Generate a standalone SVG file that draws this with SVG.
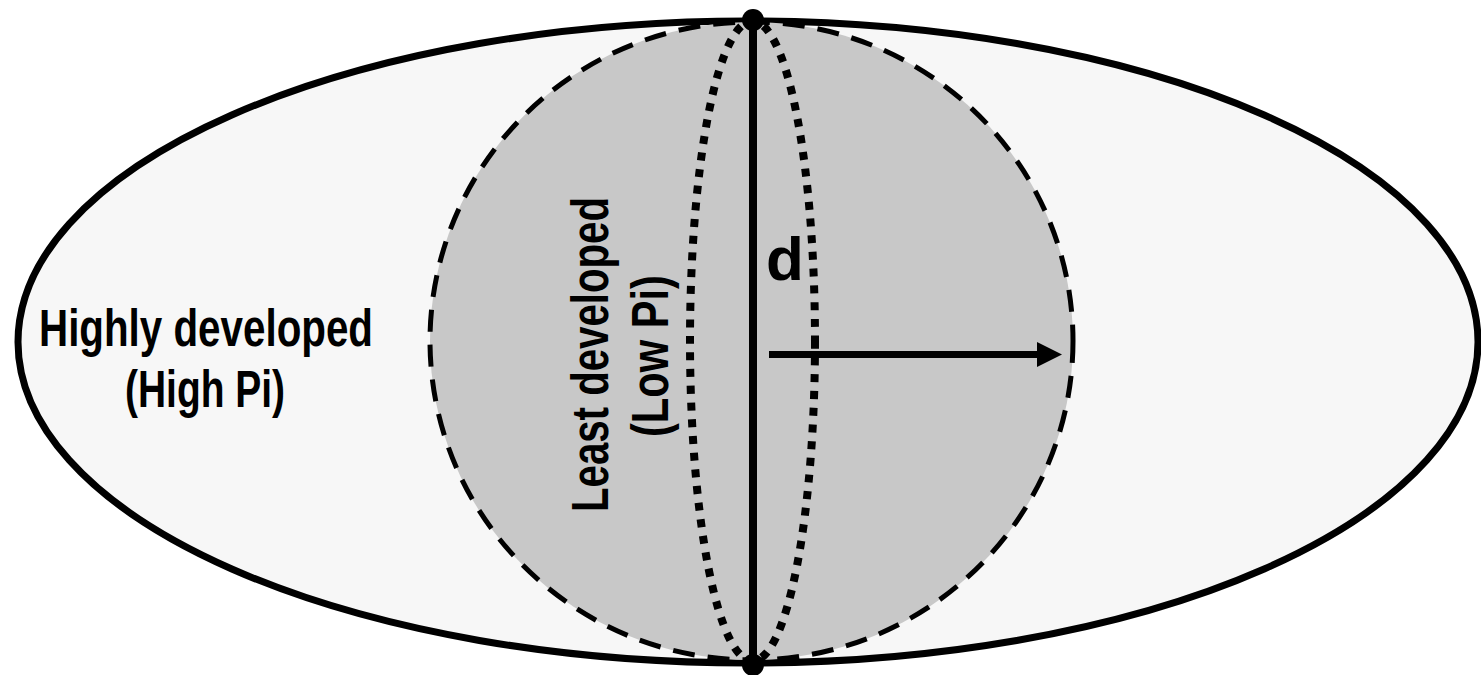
<svg xmlns="http://www.w3.org/2000/svg" width="1481" height="675" viewBox="0 0 1481 675">
<style>
.lbl{font-family:"Liberation Sans",Arial,sans-serif;font-weight:bold;font-size:51px;fill:#000;text-anchor:middle}
</style>
<rect width="1481" height="675" fill="#ffffff"/>
<g id="outer">
<ellipse cx="748" cy="342" rx="730" ry="321" fill="#f7f7f7" stroke="#000" stroke-width="7"/>
</g>
<g id="inner">
<ellipse cx="751.5" cy="341" rx="321.5" ry="319" fill="#c8c8c8" stroke="#000" stroke-width="5" stroke-dasharray="22 13"/>
</g>
<g id="dotted">
<ellipse cx="752.5" cy="341" rx="62.5" ry="320" fill="none" stroke="#000" stroke-width="8" stroke-dasharray="8 8.7"/>
</g>
<g id="connectors">
<line x1="753" y1="20" x2="753" y2="665" stroke="#000" stroke-width="8"/>
<circle cx="753" cy="20" r="11" fill="#000"/>
<circle cx="753" cy="665" r="11" fill="#000"/>
<line x1="769" y1="354.5" x2="1040" y2="354.5" stroke="#000" stroke-width="7"/>
<polygon points="1037,342 1062,354.5 1037,367" fill="#000"/>
</g>
<g id="label-d">
<text class="lbl" x="785" y="280" style="font-size:62px">d</text>
</g>
<g id="label-high">
<text class="lbl" x="206" y="346" textLength="334" lengthAdjust="spacingAndGlyphs">Highly developed</text>
<text class="lbl" x="205" y="407" textLength="160" lengthAdjust="spacingAndGlyphs">(High Pi)</text>
</g>
<g id="label-low">
<text class="lbl" transform="translate(608,354.5) rotate(-90)" x="0" y="0" textLength="315" lengthAdjust="spacingAndGlyphs">Least developed</text>
<text class="lbl" transform="translate(668,356) rotate(-90)" x="0" y="0" textLength="162" lengthAdjust="spacingAndGlyphs">(Low Pi)</text>
</g>
</svg>
